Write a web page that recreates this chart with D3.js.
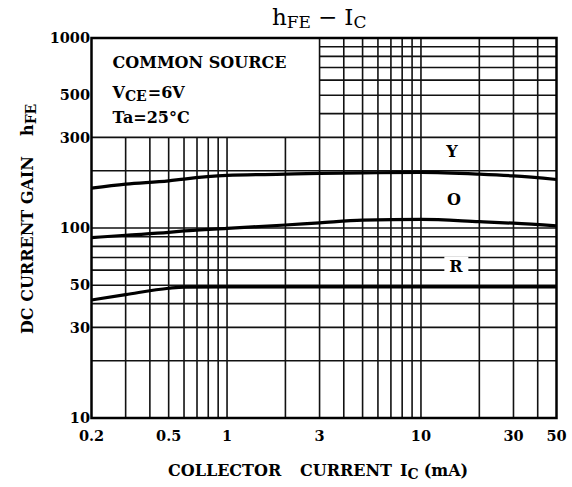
<!DOCTYPE html>
<html><head><meta charset="utf-8">
<script src="https://cdn.jsdelivr.net/npm/d3@7"></script>
<style>
body{margin:0;background:#fff}
svg{display:block}
text{font-family:"DejaVu Serif",serif;fill:#000}
</style>
</head><body>
<svg id="c" width="572" height="487"></svg>
<script>
// ---- data ----
const xTicks = [0.2, 0.5, 1, 3, 10, 30, 50];
const yTicks = [10, 30, 50, 100, 300, 500, 1000];
const icValues = [0.2, 0.3, 0.5, 0.6, 1, 2, 3, 5, 10, 20, 30, 50];
const hfeY = [162, 170, 177, 181, 189, 192, 194, 195, 196, 192, 188, 180];
const hfeO = [89, 91.6, 94.8, 96.5, 99.6, 103.7, 106.5, 110, 111, 108, 106, 102.5];
const hfeR = [41.8, 44.6, 48.2, 48.9, 49, 49, 49, 49, 49, 49, 49, 49];
const seriesNames = ["Y", "O", "R"];
const gridX = [0.3,0.4,0.5,0.6,0.7,0.8,0.9,1,2,3,4,5,6,7,8,9,10,20,30,40];
const gridY = [20,30,40,50,60,70,80,90,100,200,300];
const gridYUpper = [400,500,600,700,800,900];
const conditions = ["COMMON SOURCE", "V", "CE", "=6V", "Ta=25°C"];

const svg = d3.select("#c");
const x = d3.scaleLog().domain([0.2, 50]).range([91.5, 556.5]);
const y = d3.scaleLog().domain([10, 1000]).range([418, 38]);
const ink = "#111";

// grid
const g = svg.append("g").attr("stroke", ink).attr("stroke-width", 1.6);
g.selectAll("line.v").data(gridX).join("line").attr("class","v")
  .attr("x1", d => x(d)).attr("x2", d => x(d))
  .attr("y1", y(10)).attr("y2", d => d >= 3 ? y(1000) : y(300));
g.selectAll("line.h").data(gridY).join("line").attr("class","h")
  .attr("y1", d => y(d)).attr("y2", d => y(d))
  .attr("x1", x(0.2)).attr("x2", x(50));
g.selectAll("line.hu").data(gridYUpper).join("line").attr("class","hu")
  .attr("y1", d => y(d)).attr("y2", d => y(d))
  .attr("x1", x(3)).attr("x2", x(50));

// curves
const series = [hfeY, hfeO, hfeR];
const line = d3.line().x((d,i) => x(icValues[i])).y(d => y(d)).curve(d3.curveMonotoneX);
svg.append("g").selectAll("path").data(series).join("path")
  .attr("d", line).attr("fill","none").attr("stroke","#000").attr("stroke-width",3.2)
  .attr("stroke-linejoin","round");

// border
svg.append("rect").attr("x", x(0.2)).attr("y", y(1000))
  .attr("width", x(50)-x(0.2)).attr("height", y(10)-y(1000))
  .attr("fill","none").attr("stroke","#000").attr("stroke-width",2.5);

// curve labels
const labelPos = [[452,157],[454,205],[456,271.5]];
seriesNames.forEach((n,i) => {
  const t = svg.append("text").attr("x", labelPos[i][0]).attr("y", labelPos[i][1])
    .attr("text-anchor","middle").attr("font-weight","bold").attr("font-size",16).text(n);
  const b = t.node().getBBox();
  svg.insert("rect", () => t.node()).attr("x", b.x-5).attr("y", b.y).attr("width", b.width+10)
    .attr("height", b.height).attr("fill","#fff");
});

// tick labels
svg.append("g").selectAll("text").data(yTicks).join("text")
  .attr("x", 90).attr("y", d => y(d)).attr("dy","0.36em").attr("text-anchor","end")
  .attr("font-weight","bold").attr("font-size",14.5).text(d => d);
svg.append("g").selectAll("text").data(xTicks).join("text")
  .attr("x", d => x(d)).attr("y", 441).attr("text-anchor","middle")
  .attr("font-weight","bold").attr("font-size",14.5).text(d => d);

// title
const title = svg.append("text").attr("x", 272).attr("y", 25).attr("font-size",23);
title.append("tspan").text("h");
title.append("tspan").attr("font-size",17).attr("dy",3).text("FE");
title.append("tspan").attr("dy",-3).attr("dx",7).text("\u2212");
title.append("tspan").attr("dx",7).text("I");
title.append("tspan").attr("font-size",17).attr("dy",3).text("C");

// conditions box text
const bx = 112.5;
svg.append("text").attr("x",bx).attr("y",68).attr("font-weight","bold").attr("font-size",16).text(conditions[0]);
const v = svg.append("text").attr("x",bx).attr("y",98).attr("font-weight","bold").attr("font-size",16);
v.append("tspan").text(conditions[1]);
v.append("tspan").attr("font-size",14).attr("dy",3).text(conditions[2]);
v.append("tspan").attr("dy",-3).attr("dx",1).text(conditions[3]);
svg.append("text").attr("x",bx).attr("y",123).attr("font-weight","bold").attr("font-size",16).text(conditions[4]);

// x axis title
const xl = svg.append("text").attr("y",476).attr("font-weight","bold").attr("font-size",16);
xl.append("tspan").attr("x",168).text("COLLECTOR");
xl.append("tspan").attr("x",300).text("CURRENT");
xl.append("tspan").attr("x",400).text("I");
xl.append("tspan").attr("font-size",14).attr("dy",3).text("C");
xl.append("tspan").attr("dy",-3).attr("dx",5).text("(mA)");

// y axis title
const yl = svg.append("text").attr("transform","translate(33,334) rotate(-90)").attr("font-weight","bold").attr("font-size",16);
yl.append("tspan").attr("x",0).text("DC CURRENT GAIN");
yl.append("tspan").attr("x",198).text("h");
yl.append("tspan").attr("font-size",14).attr("dy",3).text("FE");
</script>
</body></html>
